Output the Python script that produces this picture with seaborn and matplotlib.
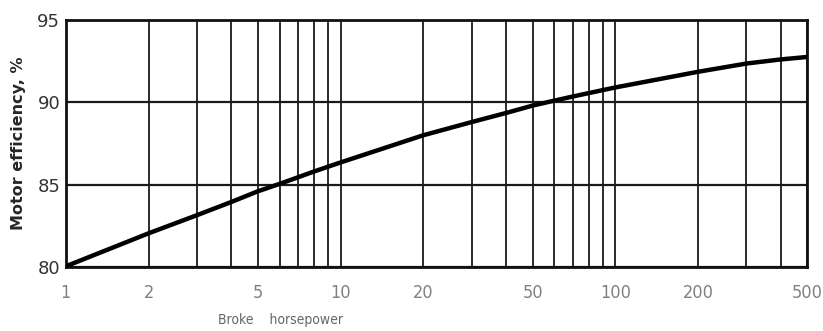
import numpy as np
import pandas as pd
import matplotlib
matplotlib.use("Agg")
import matplotlib.pyplot as plt
import seaborn as sns

# valores
hp = [1, 2, 3, 4, 5, 6, 7, 8, 10, 20, 30, 40, 50, 60, 70, 100, 200, 300, 400, 500]
eficiencia = [80.05, 82.05, 83.15, 83.95, 84.6, 85.05, 85.45, 85.8, 86.35, 88.0,
              88.8, 89.35, 89.8, 90.1, 90.35, 90.9, 91.85, 92.35, 92.6, 92.75]

xticks = [1, 2, 5, 10, 20, 50, 100, 200, 500]
xticklabels = ['1', '2', '5', '10', '20', '50', '100', '200', '500']
grade_x = [1, 2, 3, 4, 5, 6, 7, 8, 9, 10, 20, 30, 40, 50, 60, 70, 80, 90, 100,
           200, 300, 400, 500]
yticks = [80, 85, 90, 95]

df = pd.DataFrame({'hp': hp, 'eficiencia': eficiencia})

sns.set_style("white")
plt.rcParams['font.family'] = ['DejaVu Sans']

fig = plt.figure(figsize=(8.23, 3.31), dpi=100)
ax = fig.add_axes([0.080, 0.193, 0.901, 0.747])

# grade manual (linhas verticais e horizontais)
for gx in grade_x:
    ax.axvline(gx, color='#1a1a1a', lw=1.3, zorder=1)
for gy in yticks:
    ax.axhline(gy, color='#1a1a1a', lw=1.6, zorder=1)

sns.lineplot(data=df, x='hp', y='eficiencia', ax=ax, color='black', lw=3.2, zorder=3)

ax.set_xscale('log')
ax.set_xlim(1, 500)
ax.set_ylim(80, 95)
ax.set_xticks(xticks)
ax.set_xticklabels(xticklabels, family='DejaVu Sans', stretch='condensed',
                   fontsize=13, color='#808080')
ax.xaxis.set_minor_locator(matplotlib.ticker.NullLocator())
ax.set_yticks(yticks)
ax.set_yticklabels([str(v) for v in yticks], fontsize=13, color='#333333')
ax.tick_params(axis='x', length=0, pad=12)
ax.tick_params(axis='y', length=0, pad=4)

for s in ax.spines.values():
    s.set_color('#111111')
    s.set_linewidth(2)

ax.set_xlabel("Broke    horsepower", family='DejaVu Sans', stretch='condensed',
              fontsize=10, color='#666666')
ax.xaxis.set_label_coords(0.29, -0.185)
ax.set_ylabel("Motor efficiency, %", fontsize=11.5, fontweight='bold', labelpad=8)

plt.savefig('out.png', dpi=100)
